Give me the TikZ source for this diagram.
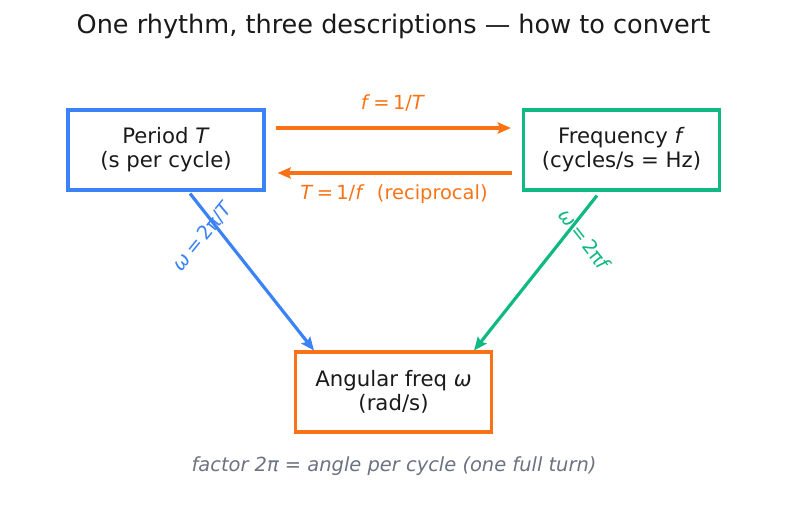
\documentclass[tikz,border=0pt]{standalone}
\usepackage{fontspec}
\setmainfont{DejaVu Sans}
\usetikzlibrary{arrows.meta}
\definecolor{cblue}{HTML}{3B82F6}
\definecolor{cgreen}{HTML}{10B981}
\definecolor{corange}{HTML}{F97316}
\definecolor{cgray}{HTML}{6B7280}
\definecolor{cdark}{HTML}{1A1A1A}
\begin{document}
\begin{tikzpicture}[x=0.72pt,y=-0.72pt,
  box/.style={draw, line width=2.2pt, minimum width=196*0.72pt, minimum height=80*0.72pt,
    align=center, text=cdark, font=\fontsize{15.3}{17.3}\selectfont, inner sep=0pt},
  conn/.style={line width=2.3pt, -{Stealth[length=9.5pt,width=8pt,inset=1.5pt]}},
  lbl/.style={font=\fontsize{14}{16}\selectfont, inner sep=0pt}]
\useasboundingbox (0,0) rectangle (787,512);
\node[font=\fontsize{18.4}{20}\selectfont, text=cdark] (title) at (393.5,26) {One rhythm, three descriptions — how to convert};
\node[box, draw=cblue] (P) at (166,150) {Period \textit{T}\\(s per cycle)};
\node[box, draw=cgreen] (F) at (621.5,150) {Frequency \textit{f}\\(cycles/s = Hz)};
\node[box, draw=corange] (A) at (393.5,392) {Angular freq \textit{ω}\\(rad/s)};
\draw[conn, corange] ([shift={(10,-22)}]P.east) -- ([shift={(-11,-22)}]F.west);
\draw[conn, corange] ([shift={(-10,23)}]F.west) -- ([shift={(12,23)}]P.east);
\node[lbl, text=corange] (l1) at (393,103) {\textit{f}\,=\,1/\textit{T}};
\node[lbl, text=corange] (l2) at (394,194) {\textit{T}\,=\,1/\textit{f}\ \ (reciprocal)};
\draw[conn, cblue] ([shift={(24,2)}]P.south) -- ([shift={(20,0)}]A.north west);
\draw[conn, cgreen] ([shift={(-24.5,4)}]F.south) -- ([shift={(-19,0)}]A.north east);
\node[lbl, text=cblue, rotate=51] (l3) at (203,236) {\textit{ω}\,=\,2π/\textit{T}};
\node[lbl, text=cgreen, rotate=-52] (l4) at (585,240) {\textit{ω}\,=\,2π\textit{f}};
\node[lbl, text=cgray] (note) at (394,466) {\textit{factor 2π = angle per cycle (one full turn)}};
\end{tikzpicture}
\end{document}
